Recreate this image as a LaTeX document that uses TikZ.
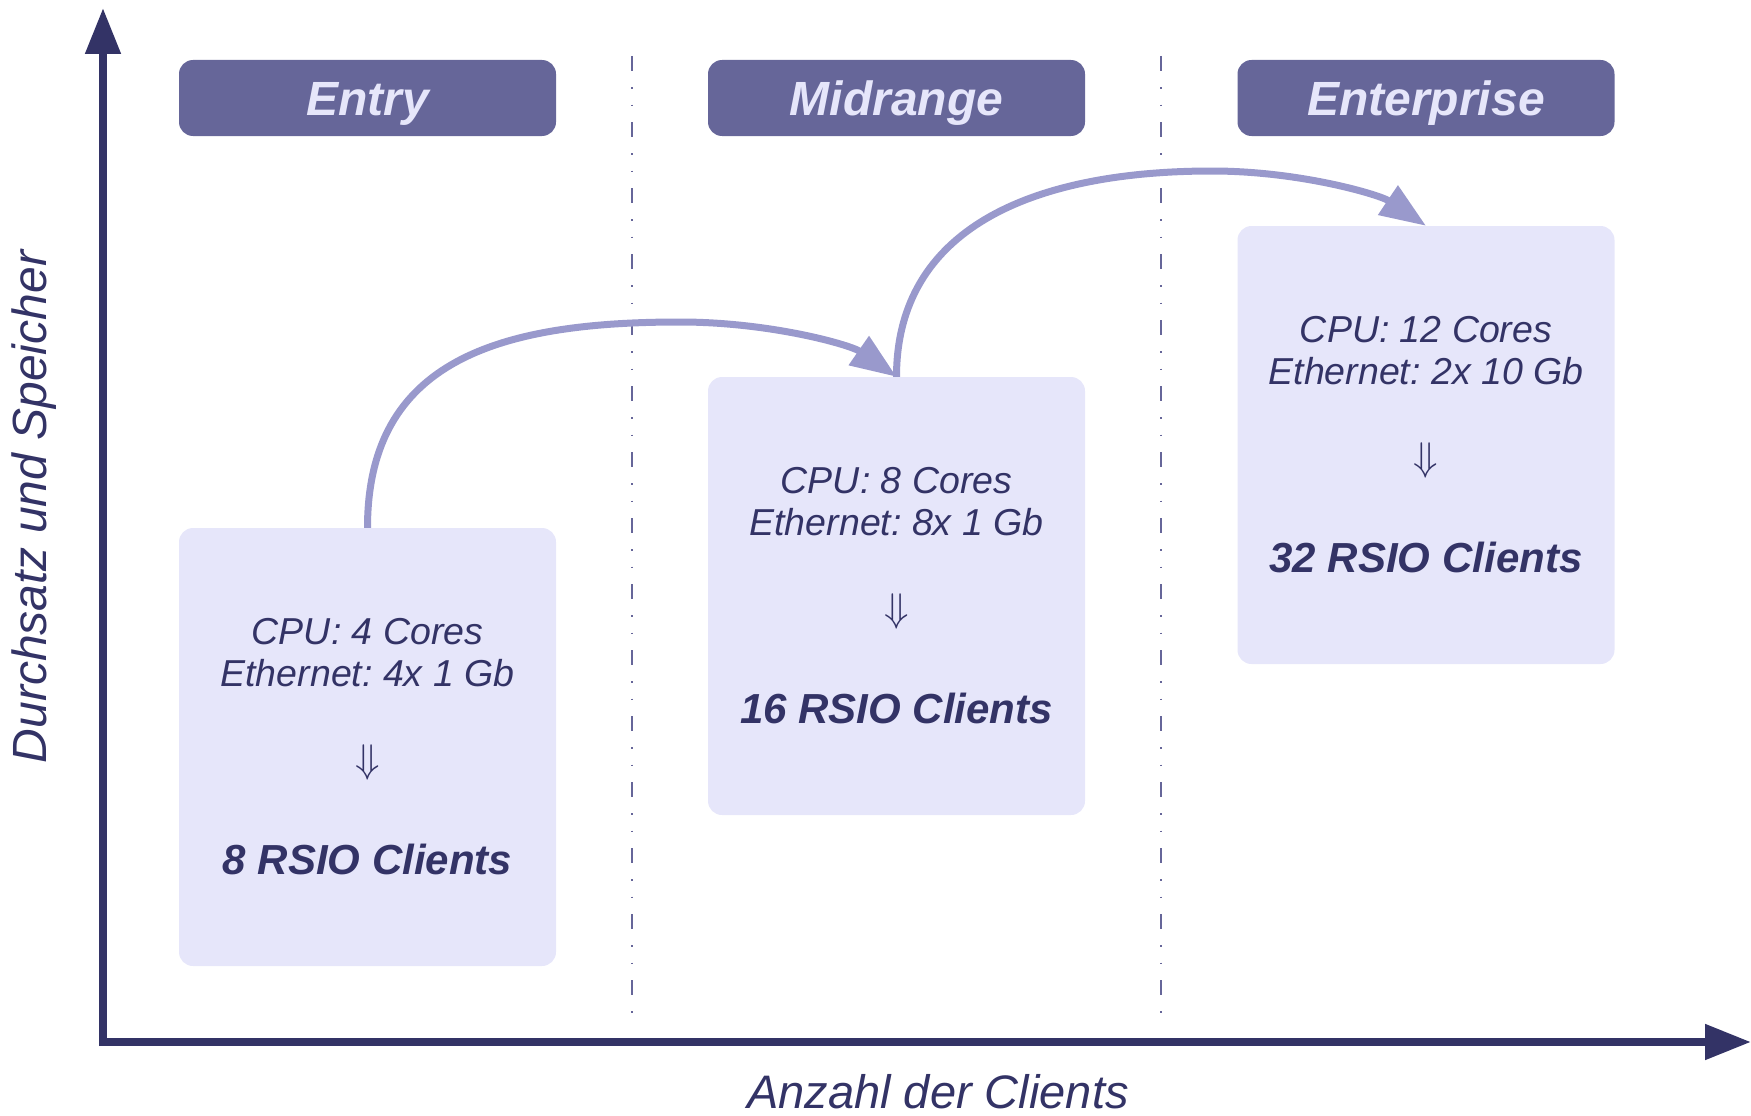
\documentclass[tikz,border=0pt]{standalone}
\usepackage{fontspec}
\usepackage{graphicx}
\setmainfont{Liberation Sans}
\usetikzlibrary{arrows.meta,calc}
\definecolor{navy}{HTML}{333366}
\definecolor{tabfill}{HTML}{666699}
\definecolor{pale}{HTML}{E6E6FA}
\definecolor{flow}{HTML}{9999CC}
\frenchspacing

\begin{document}
\begin{tikzpicture}[x=1pt,y=-1pt,
  tab/.style={fill=tabfill, rounded corners=14pt, minimum width=377pt, minimum height=76pt,
    inner sep=0pt, text height=34.4pt, text depth=0pt, text=pale,
    font=\fontsize{48}{55}\selectfont\bfseries\itshape},
  tier/.style={fill=pale, rounded corners=14pt, minimum width=377pt, minimum height=438pt, inner sep=0pt},
  spec/.style={text=navy, align=center, inner sep=0pt, font=\fontsize{37.5}{42}\selectfont\itshape},
  implies/.style={text=navy, inner sep=0pt},
  result/.style={text=navy, inner sep=0pt, font=\fontsize{42}{48}\selectfont\bfseries\itshape},
  axis/.style={draw=navy, line width=8pt, -{Triangle[length=46pt,width=34pt]}},
  divider/.style={draw=tabfill, line width=1.6pt,
    dash pattern=on 15pt off 16pt on 1.5pt off 16pt on 1.5pt off 16pt},
  flowarrow/.style={draw=flow, line width=7pt, -{Triangle[length=46pt,width=34pt]}},
  axislabel/.style={text=navy, inner sep=0pt, font=\fontsize{47}{54}\selectfont\itshape}
]
\useasboundingbox (0,0) rectangle (1751,1116);

% tier separators
\coordinate (d1a) at (632,56);  \coordinate (d1b) at (632,1022);
\coordinate (d2a) at (1161,56); \coordinate (d2b) at (1161,1022);
\draw[divider] (d1a) -- (d1b);
\draw[divider] (d2a) -- (d2b);

% axes
\coordinate (oy) at (103,1046);
\coordinate (ox) at (99,1042);
\coordinate (ytip) at (103,8);
\coordinate (xtip) at (1751,1042);
\draw[axis] (oy) -- (ytip);
\draw[axis] (ox) -- (xtip);
\node[axislabel, rotate=90, font=\fontsize{48}{54}\selectfont\itshape] (ylab) at (34,507) {Durchsatz und Speicher};
\node[axislabel] (xlab) at (938,1092) {Anzahl der Clients};

% tier headers
\node[tab] (he) at (367.5,98) {Entry};
\node[tab] (hm) at (896.5,98) {Midrange};
\node[tab] (hn) at (1426,98) {Enterprise};

% tier boxes
\node[tier] (e) at (367.5,747) {};
\node[tier] (m) at (896.5,596) {};
\node[tier] (n) at (1426,445) {};

% box contents
\node[spec] (es) at ($(e.north)+(0,125)$) {CPU: 4 Cores\\Ethernet: 4x 1 Gb};
\node[implies] (ei) at ($(e.north)+(0,235)$) {\scalebox{4}{$\Downarrow$}};
\node[result] (er) at ($(e.north)+(0,332)$) {8 RSIO Clients};

\node[spec] (ms) at ($(m.north)+(0,125)$) {CPU: 8 Cores\\Ethernet: 8x 1 Gb};
\node[implies] (mi) at ($(m.north)+(0,235)$) {\scalebox{4}{$\Downarrow$}};
\node[result] (mr) at ($(m.north)+(0,332)$) {16 RSIO Clients};

\node[spec] (ns) at ($(n.north)+(0,125)$) {CPU: 12 Cores\\Ethernet: 2x 10 Gb};
\node[implies] (ni) at ($(n.north)+(0,235)$) {\scalebox{4}{$\Downarrow$}};
\node[result] (nr) at ($(n.north)+(0,332)$) {32 RSIO Clients};

% upgrade path
\coordinate (apex1) at (680,322);
\coordinate (apex2) at (1212,171);
\draw[flowarrow] (e.north) .. controls +(0,-168) and +(-180,0) .. (apex1)
  .. controls +(90,0) and +(-46,-32) .. (m.north);
\draw[flowarrow] (m.north) .. controls +(0,-147) and +(-182,0) .. (apex2)
  .. controls +(88,0) and +(-46,-31) .. (n.north);
\end{tikzpicture}
\end{document}
